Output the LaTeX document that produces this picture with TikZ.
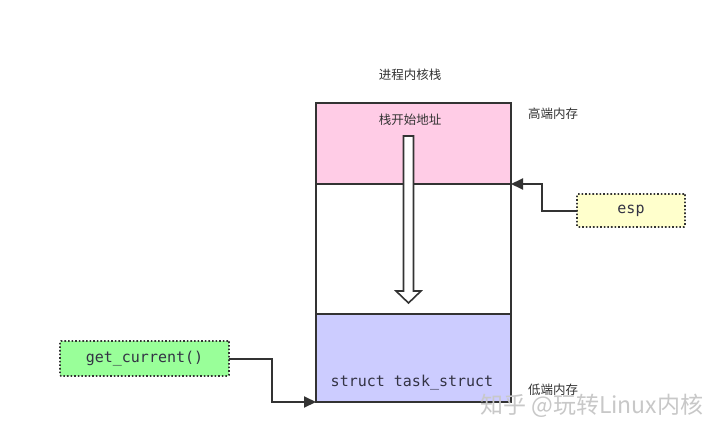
\documentclass[tikz,border=0pt]{standalone}
\usepackage{fontspec}
\newfontfamily\cjk{Noto Sans CJK SC}
\newfontfamily\mono{DejaVu Sans Mono}
\usetikzlibrary{arrows.meta}
\definecolor{lineg}{HTML}{333333}
\definecolor{pinkf}{HTML}{FFCCE6}
\definecolor{bluef}{HTML}{CCCCFF}
\definecolor{greenf}{HTML}{99FF99}
\definecolor{yellowf}{HTML}{FFFFCC}
\definecolor{monotext}{HTML}{333344}
\definecolor{wm}{HTML}{C8C8C8}
\tikzset{
  seg/.style={draw=lineg, line width=2pt, minimum width=195pt, inner sep=0pt, outer sep=0pt},
  tag/.style={draw=lineg, line width=1.6pt, dotted, inner sep=0pt, outer sep=0pt, rounded corners=1pt},
  cn/.style={font=\cjk\fontsize{12.5}{14}\selectfont, text=lineg, inner sep=0pt},
  mtxt/.style={font=\mono\fontsize{15}{17}\selectfont, text=monotext, inner sep=0pt},
  conn/.style={draw=lineg, line width=2pt, -{Triangle[length=12pt,width=11pt]}},
}
\begin{document}
\begin{tikzpicture}[x=1pt,y=-1pt]
\useasboundingbox[fill=white] (0,0) rectangle (720,436);
% stack segments
\node[seg, fill=pinkf, minimum height=81pt, anchor=north west] (top) at (316,103) {};
\node[seg, fill=white, minimum height=130pt, anchor=north west] (mid) at (316,184) {};
\node[seg, fill=bluef, minimum height=88pt, anchor=north west] (bot) at (316,314) {};
% labels
\node[cn] (title) at (410,75) {进程内核栈};
\node[cn] (high) at (553,114) {高端内存};
\node[cn] (start) at (410,120) {栈开始地址};
\node[cn] (low) at (553,390) {低端内存};
\node[mtxt] (ts) at (412,383) {struct task\_struct};
% hollow arrow
\draw[lineg, line width=1.6pt, fill=white, line join=miter]
  (403.5,136) -- (413.5,136) -- (413.5,291) -- (421,291) -- (408.5,303) -- (396,291) -- (403.5,291) -- cycle;
% tags
\node[tag, fill=yellowf, minimum width=108pt, minimum height=33pt, anchor=north west] (esp) at (577,194) {};
\node[mtxt] at (esp.center) {esp};
\node[tag, fill=greenf, minimum width=169pt, minimum height=35pt, anchor=north west] (gc) at (60,341) {};
\node[mtxt] at (gc.center) {get\_current()};
% connectors
\coordinate (espIn) at (top.south east);
\coordinate (gcIn) at (bot.south west);
\draw[conn] (esp.west) -| (542,184) -- (espIn);
\draw[conn] (gc.east) -| (272,402) -- (gcIn);
% watermark
\node[font=\cjk\fontsize{23}{25}\selectfont, text=wm, anchor=west, inner sep=0pt] (wmk) at (480,406) {知乎 @玩转Linux内核};
\end{tikzpicture}
\end{document}
